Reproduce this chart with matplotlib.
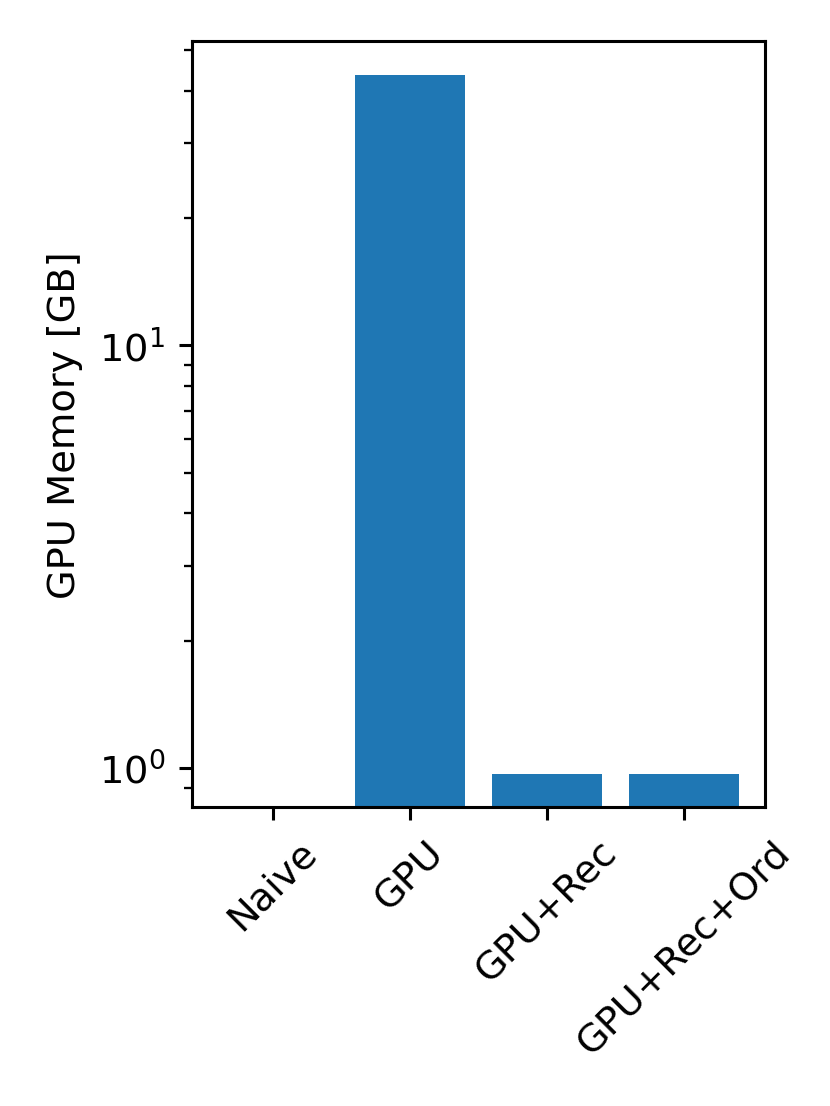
import matplotlib
matplotlib.use("Agg")
import matplotlib.pyplot as plt

methods = ["Naive", "GPU", "GPU+Rec", "GPU+Rec+Ord"]
memory_gb = [0.0, 43.5, 0.968, 0.968]

dpi = 830 / 3
fig = plt.figure(figsize=(3, 4), dpi=dpi)
ax = fig.add_axes([0.2313, 0.2701, 0.6904, 0.6920])

ax.bar(methods, memory_gb, color="#1f77b4")
ax.set_yscale("log")
ax.set_ylim(0.809, 52.3)
ax.set_xlim(-0.59, 3.59)
ax.set_ylabel("GPU Memory [GB]")
plt.setp(ax.get_xticklabels(), rotation=45)

fig.savefig("out.png", dpi=dpi)
